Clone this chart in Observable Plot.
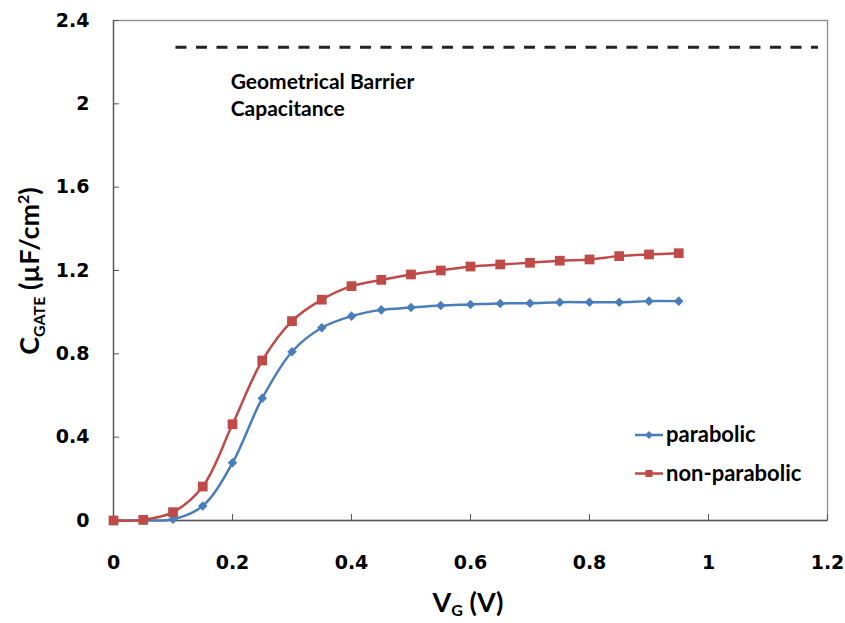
<!DOCTYPE html>
<html><head><meta charset="utf-8">
<script src="https://cdn.jsdelivr.net/npm/d3@7"></script>
<script src="https://cdn.jsdelivr.net/npm/@observablehq/plot@0.6"></script>
<style>body{margin:0;background:#fff}</style>
</head><body><div id="chart"></div>
<script>
const vg = [0,0.05,0.1,0.15,0.2,0.25,0.3,0.35,0.4,0.45,0.5,0.55,0.6,0.65,0.7,0.75,0.8,0.85,0.9,0.95];
const parabolic = [0,0.001,0.006,0.07,0.277,0.587,0.81,0.925,0.981,1.011,1.022,1.032,1.037,1.042,1.043,1.048,1.048,1.048,1.053,1.053];
const nonParabolic = [0,0.003,0.04,0.163,0.462,0.768,0.957,1.06,1.125,1.155,1.181,1.2,1.219,1.229,1.237,1.247,1.253,1.269,1.277,1.283];
const seriesNames = ["parabolic","non-parabolic"];
const seriesColors = ["#4A7EBB","#BE4B48"];
const xTicks = [0,0.2,0.4,0.6,0.8,1,1.2];
const yTicks = [0,0.4,0.8,1.2,1.6,2,2.4];
const barrierX = [0.105,1.185];
const barrierC = 2.272;
const annotationLines = ["Geometrical Barrier","Capacitance"];
const annotationPos = [0.197, 2.16];

const parRows = vg.map((v,i)=>({vg:v, c:parabolic[i], series:seriesNames[0]}));
const nonRows = vg.map((v,i)=>({vg:v, c:nonParabolic[i], series:seriesNames[1]}));
const fmt = d3.format("~g");

const plot = Plot.plot({
  width: 845, height: 623,
  marginLeft: 113, marginRight: 18, marginTop: 20, marginBottom: 103,
  style: {fontFamily: "'DejaVu Sans', sans-serif", fontWeight: "bold", fontSize: "19px", color: "#000", background: "#fff", overflow: "visible"},
  x: {domain: [0,1.2], label: null},
  y: {domain: [0,2.4], label: null},
  marks: [
    Plot.frame({stroke: "#8c8c8c", strokeWidth: 1.3}),
    Plot.ruleX([0], {stroke: "#555", strokeWidth: 1.3}),
    Plot.ruleY([0], {stroke: "#555", strokeWidth: 1.3}),
    Plot.axisX({ticks: xTicks, tickSize: -6, tickPadding: 41, tickFormat: fmt, label: null, stroke: "#555", fontSize: 19}),
    Plot.axisY({ticks: yTicks, tickSize: -6, tickPadding: 30, tickFormat: fmt, label: null, stroke: "#555", fontSize: 19}),
    Plot.ruleY([barrierC], {x1: barrierX[0], x2: barrierX[1], stroke: "#222", strokeWidth: 3, strokeDasharray: "11,9.5"}),
    Plot.line(parRows, {x: "vg", y: "c", stroke: seriesColors[0], strokeWidth: 2.5, curve: "catmull-rom"}),
    Plot.line(nonRows, {x: "vg", y: "c", stroke: seriesColors[1], strokeWidth: 2.5, curve: "catmull-rom"}),
    Plot.dot(parRows, {x: "vg", y: "c", symbol: "diamond2", r: 4.3, fill: seriesColors[0], stroke: null}),
    Plot.dot(nonRows, {x: "vg", y: "c", symbol: "square", r: 5.5, fill: seriesColors[1], stroke: null}),
    Plot.text([annotationLines.join("\n")], {x: annotationPos[0], y: annotationPos[1], text: d=>d, textAnchor: "start", lineAnchor: "top", lineHeight: 1.27, fontSize: 21, fontFamily: "Lato, sans-serif", fontWeight: "bold", fill: "#000"})
  ]
});
document.getElementById("chart").appendChild(plot);

const svg = d3.select(plot);
// Axis titles
const yt = svg.append("text")
  .attr("transform", "translate(39,271) rotate(-90)")
  .attr("text-anchor", "middle")
  .style("font-family", "Lato, sans-serif").style("font-weight", "bold").style("font-size", "27px").attr("fill", "#000");
yt.append("tspan").text("C");
yt.append("tspan").attr("dy", 6).style("font-size", "16px").text("GATE");
yt.append("tspan").attr("dy", -6).text(" (µF/cm");
yt.append("tspan").attr("dy", -10).style("font-size", "16px").text("2");
yt.append("tspan").attr("dy", 10).text(")");

const xt = svg.append("text")
  .attr("x", 468).attr("y", 612)
  .attr("text-anchor", "middle")
  .style("font-family", "Lato, sans-serif").style("font-weight", "bold").style("font-size", "27px").attr("fill", "#000");
xt.append("tspan").text("V");
xt.append("tspan").attr("dy", 4).style("font-size", "16px").text("G");
xt.append("tspan").attr("dy", -4).text(" (V)");

// Legend
const lg = svg.append("g");
const symbols = [d3.symbol(d3.symbolDiamond2, 40), d3.symbol(d3.symbolSquare, 50)];
seriesNames.forEach((name,i)=>{
  const y = 435 + i*38.5;
  const g = lg.append("g").attr("transform", `translate(0,${y})`);
  g.append("line").attr("x1", 635).attr("x2", 663).attr("y1", 0).attr("y2", 0).attr("stroke", seriesColors[i]).attr("stroke-width", 2.5);
  g.append("path").attr("d", symbols[i]()).attr("transform", "translate(649,0)").attr("fill", seriesColors[i]);
  g.append("text").attr("x", 666).attr("y", 0).attr("dy", "0.32em").attr("text-anchor", "start")
    .style("font-family", "Lato, sans-serif").style("font-weight", "bold").style("font-size", "22px").attr("fill", "#000").text(name);
});
</script>
</body></html>
